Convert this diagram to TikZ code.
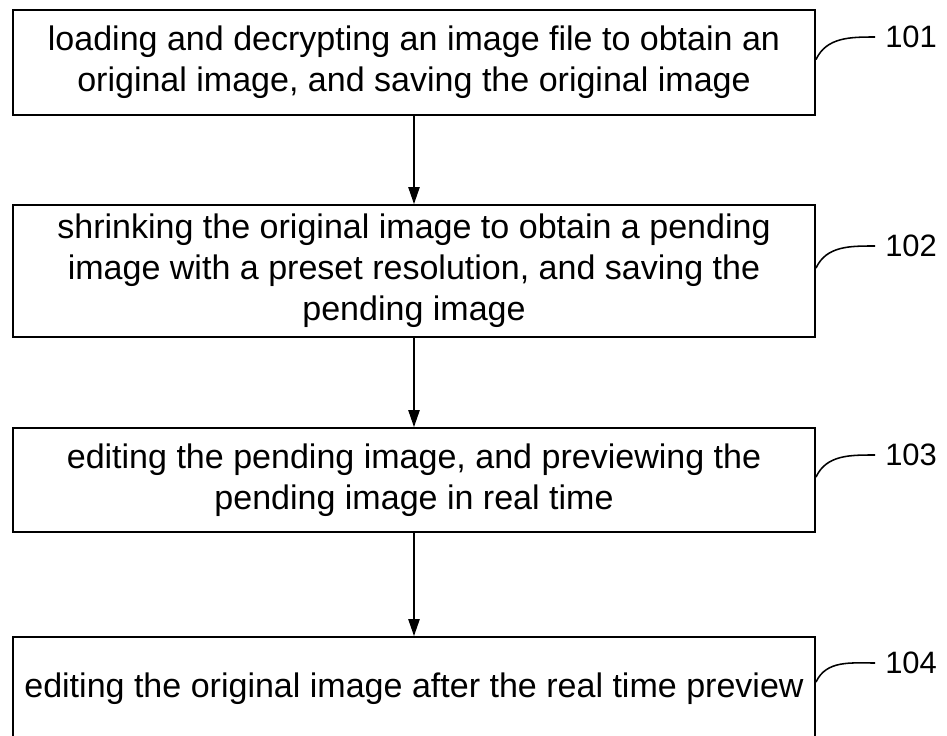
\documentclass[tikz,border=0pt]{standalone}
\usepackage{fontspec}
\setmainfont{Liberation Sans}
\usetikzlibrary{arrows.meta,positioning}
\tikzset{
  stepbox/.style={draw,line width=1.3pt,minimum width=20.05cm,align=center,
    inner sep=0pt,font=\fontsize{24.2}{29.2}\selectfont},
  steplabel/.style={anchor=west,inner xsep=0.25cm,inner ysep=2pt,
    font=\fontsize{22}{26}\selectfont},
  flow/.style={-{Triangle[length=12pt,width=8pt]},line width=1pt},
  tag/.style={line width=1.1pt}
}

\begin{document}
\begin{tikzpicture}[x=0.025cm,y=-0.025cm]
  \useasboundingbox (0,0) rectangle (947,736);
  \clip (0,0) rectangle (947,736);
  % steps
  \node[stepbox,minimum height=2.625cm] (s101) at (414,62.5)
    {loading and decrypting an image file to obtain an\\original image, and saving the original image};
  \node[stepbox,minimum height=3.3cm] (s102) at (414,271)
    {shrinking the original image to obtain a pending\\image with a preset resolution, and saving the\\pending image};
  \node[stepbox,minimum height=2.6cm] (s103) at (414,480)
    {editing the pending image, and previewing the\\pending image in real time};
  \node[stepbox,minimum height=2.6cm] (s104) at (414,689)
    {editing the original image after the real time preview};
  % flow
  \draw[flow] (s101) -- (s102);
  \draw[flow] (s102) -- (s103);
  \draw[flow] (s103) -- (s104);
  % reference numerals
  \node[steplabel] (l101) at (875,37) {101};
  \node[steplabel] (l102) at (875,246) {102};
  \node[steplabel] (l103) at (875,455) {103};
  \node[steplabel] (l104) at (875,663) {104};
  \draw[tag] ([yshift=0.075cm]s101.east) to[out=65,in=180] (l101.west);
  \draw[tag] ([yshift=0.075cm]s102.east) to[out=65,in=180] (l102.west);
  \draw[tag] ([yshift=0.075cm]s103.east) to[out=65,in=180] (l103.west);
  \draw[tag] ([yshift=0.175cm]s104.east) to[out=65,in=180] (l104.west);
\end{tikzpicture}
\end{document}
